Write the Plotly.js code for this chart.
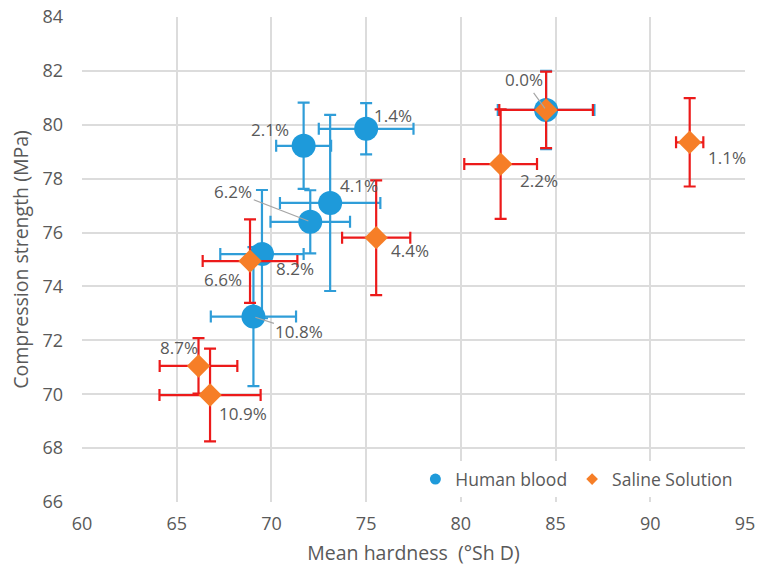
<!DOCTYPE html>
<html>
<head>
<meta charset="utf-8">
<script src="https://cdn.plot.ly/plotly-3.0.1.min.js"></script>
<style>html,body{margin:0;padding:0;background:#fff;}#chart{width:764px;height:583px;}</style>
</head>
<body>
<div id="chart"></div>
<script>
// ---- Data ----
const seriesNames = ['Human blood', 'Saline Solution'];

const bloodX    = [75.0, 71.7, 73.1, 72.05, 69.5, 69.05, 84.5];
const bloodY    = [79.85, 79.22, 77.1, 76.4, 75.2, 72.88, 80.55];
const bloodXErr = [2.5, 1.45, 2.65, 2.1, 2.2, 2.25, 2.55];
const bloodYErr = [0.95, 1.6, 3.27, 1.17, 2.38, 2.58, 1.45];
const bloodLabels = ['1.4%', '2.1%', '4.1%', '6.2%', '8.2%', '10.8%', ''];

const salineX    = [84.5, 82.1, 92.08, 75.53, 68.87, 66.15, 66.76];
const salineY    = [80.55, 78.54, 79.35, 75.81, 74.94, 71.05, 69.97];
const salineXErr = [2.47, 1.92, 0.72, 1.8, 2.5, 2.05, 2.67];
const salineYErr = [1.42, 2.03, 1.64, 2.13, 1.55, 1.03, 1.72];
const salineLabels = ['0.0%', '2.2%', '1.1%', '4.4%', '6.6%', '8.7%', '10.9%'];

const xTicks = [60, 65, 70, 75, 80, 85, 90, 95];
const yTicks = [66, 68, 70, 72, 74, 76, 78, 80, 82, 84];

// ---- Label placement (pixel offsets of label centre from its point) ----
const bloodLabelDx = [27, -34, 29, -77, 33, 46, 0];
const bloodLabelDy = [-13, -16, -17, -30, 14, 15, 0];
const bloodLeader  = [false, false, false, true, false, true, false];
const salineLabelDx = [-22, 38, 37, 34, -27, -20, 33];
const salineLabelDy = [-30, 16, 15, 13, 18, -18, 18];
const salineLeader  = [true, false, false, false, false, false, false];

// ---- Styles ----
const BLUE = '#1E9ADA';
const BLUE_ERR = '#2F9DD8';
const ORANGE = '#F67E27';
const RED = '#EC1A1A';
const TEXT = '#595959';
const FONT = '"Open Sans", "Noto Sans", sans-serif';

const traces = [
  {
    type: 'scatter', mode: 'markers', name: seriesNames[0], showlegend: false,
    x: bloodX, y: bloodY,
    marker: {symbol: 'circle', size: 24, color: BLUE},
    error_x: {type: 'data', array: bloodXErr, visible: true, color: BLUE_ERR, thickness: 2.2, width: 6},
    error_y: {type: 'data', array: bloodYErr, visible: true, color: BLUE_ERR, thickness: 2.2, width: 6},
    hoverinfo: 'x+y'
  },
  {
    type: 'scatter', mode: 'markers', name: seriesNames[1], showlegend: false,
    x: salineX, y: salineY,
    marker: {symbol: 'diamond', size: 18, color: ORANGE},
    error_x: {type: 'data', array: salineXErr, visible: true, color: RED, thickness: 2.2, width: 6},
    error_y: {type: 'data', array: salineYErr, visible: true, color: RED, thickness: 2.2, width: 6},
    hoverinfo: 'x+y'
  },
  // legend-only entries (smaller symbols like the reference legend)
  {type: 'scatter', mode: 'markers', name: seriesNames[0], x: [null], y: [null],
   marker: {symbol: 'circle', size: 11, color: BLUE}},
  {type: 'scatter', mode: 'markers', name: seriesNames[1], x: [null], y: [null],
   marker: {symbol: 'diamond', size: 9, color: ORANGE}}
];

const annotations = [];
function addLabels(xs, ys, labels, dxs, dys, leaders) {
  for (let i = 0; i < xs.length; i++) {
    if (!labels[i]) continue;
    annotations.push({
      x: xs[i], y: ys[i], xref: 'x', yref: 'y',
      text: labels[i],
      showarrow: true, arrowhead: 0, arrowwidth: 1.2, standoff: 2,
      arrowcolor: leaders[i] ? '#A6A6A6' : 'rgba(0,0,0,0)',
      ax: dxs[i], ay: dys[i],
      font: {family: FONT, size: 17, color: TEXT}
    });
  }
}
addLabels(bloodX, bloodY, bloodLabels, bloodLabelDx, bloodLabelDy, bloodLeader);
addLabels(salineX, salineY, salineLabels, salineLabelDx, salineLabelDy, salineLeader);

const layout = {
  width: 764, height: 583,
  margin: {l: 82, r: 19, t: 17, b: 81, pad: 0},
  paper_bgcolor: '#ffffff', plot_bgcolor: '#ffffff',
  font: {family: FONT, color: TEXT, size: 17},
  showlegend: true,
  legend: {
    orientation: 'h', x: 0.99, xanchor: 'right', y: 0.01, yanchor: 'bottom',
    bgcolor: '#ffffff', font: {family: FONT, size: 17.5, color: TEXT},
    itemwidth: 30, tracegroupgap: 0
  },
  xaxis: {
    range: [60, 95], tickvals: xTicks, ticktext: xTicks.map(String),
    showgrid: true, gridcolor: '#DCDCDC', gridwidth: 2,
    zeroline: false, showline: false, ticks: '', ticklabelstandoff: 9,
    tickfont: {family: FONT, size: 18, color: TEXT},
    title: {text: 'Mean hardness \u00a0(°Sh D)', font: {family: FONT, size: 19.5, color: TEXT}, standoff: 12}
  },
  yaxis: {
    range: [66, 84], tickvals: yTicks, ticktext: yTicks.map(String),
    showgrid: true, gridcolor: '#DCDCDC', gridwidth: 2,
    zeroline: false, showline: false, ticks: '', ticklabelstandoff: 18,
    tickfont: {family: FONT, size: 18, color: TEXT},
    title: {text: 'Compression strength (MPa)', font: {family: FONT, size: 19.5, color: TEXT}, standoff: 8}
  },
  annotations: annotations
};

Plotly.newPlot('chart', traces, layout, {displayModeBar: false, staticPlot: true});
</script>
</body>
</html>
